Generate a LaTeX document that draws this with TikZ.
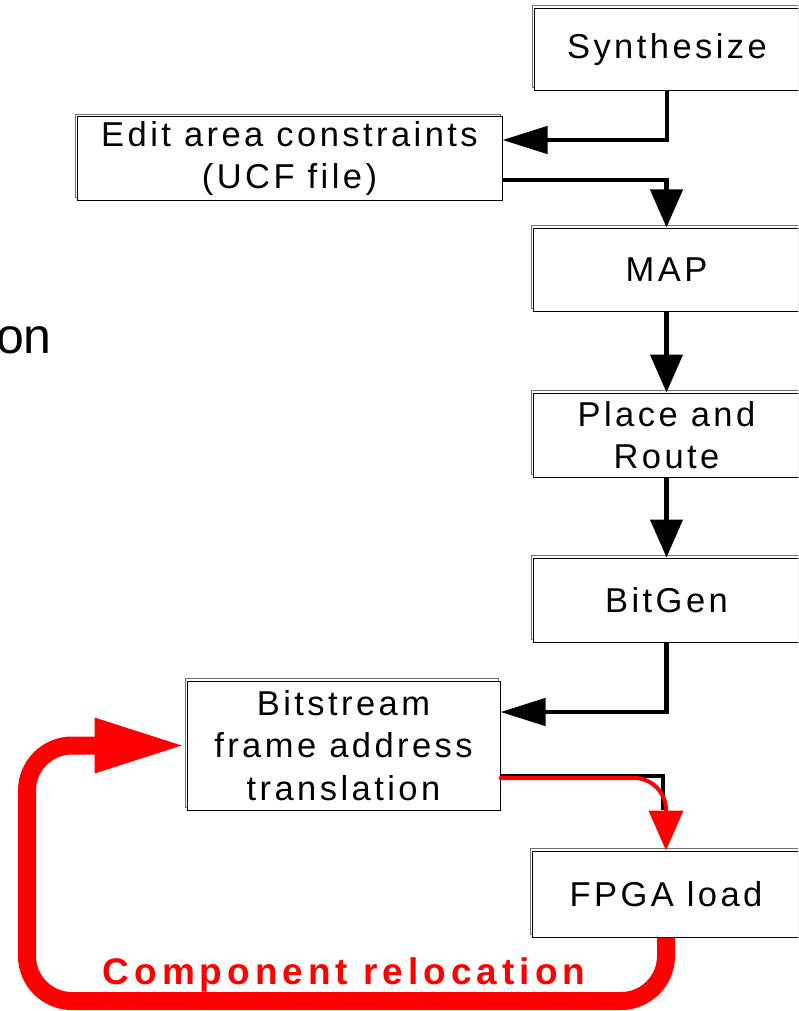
\documentclass[tikz,border=0pt]{standalone}
\usepackage{fontspec}
\setmainfont{Liberation Sans}
\newfontfamily\boxfont[LetterSpace=10]{Liberation Sans}
\newfontfamily\relfont[LetterSpace=13.5]{Liberation Sans}
\usetikzlibrary{arrows.meta,shadows}

\begin{document}
\begin{tikzpicture}[x=1pt,y=-1pt,
  box/.style={draw=black, line width=1pt, fill=white, align=center, inner sep=0pt,
    font={\boxfont\fontsize{34.5}{42.5}\selectfont},
    copy shadow={shadow xshift=-2pt, shadow yshift=3pt, draw=black!55, fill=white, line width=0.8pt}},
  boxsize/.style 2 args={minimum width=#1pt, minimum height=#2pt},
  flow/.style={draw=black, line width=4.5pt},
  vhead/.style={-{Triangle[length=38pt,width=32pt]}},
  hhead/.style={-{Triangle[length=45pt,width=27pt]}},
  redflow/.style={draw=red, line width=4pt, line cap=round, -{Triangle[length=40pt,width=34pt]}},
  loop/.style={draw=red, line width=18pt, rounded corners=45pt, -{Triangle[length=92pt,width=50pt]}}
]
\useasboundingbox (0,0) rectangle (798,1011);
\clip (0,0) rectangle (798,1011);

% process boxes
\node[box, boxsize={266}{82}] (synth)  at (667,49.5)   {Synthesize};
\node[box, boxsize={425}{83}] (edit)   at (289.5,158.5){Edit area constraints\\(UCF file)};
\node[box, boxsize={267}{83}] (map)    at (666.5,269.5){MAP};
\node[box, boxsize={267}{84}] (par)    at (666.5,435)  {Place and\\Route};
\node[box, boxsize={267}{84}] (bitgen) at (666.5,600)  {BitGen};
\node[box, boxsize={313}{129}] (bits)  at (343.5,745.5){Bitstream\\frame address\\translation};
\node[box, boxsize={268}{86}] (fpga)   at (666,894)    {FPGA load};

% label fragment at the left border
\node[anchor=base east, inner sep=0pt, font={\fontsize{50}{60}\selectfont}] (frag) at (52,353) {on};

% black flow connectors
\draw[flow, hhead] (synth.south) |- ([yshift=18.5pt]edit.east);
\draw[flow, vhead] ([yshift=-21.5pt]edit.east) -| (map.north);
\draw[flow, vhead] (map.south) -- (par.north);
\draw[flow, vhead] (par.south) -- (bitgen.north);
\draw[flow, hhead] (bitgen.south) |- ([yshift=33.5pt]bits.east);
\coordinate (oldend) at (663,810);
\draw[draw=black, line width=3.5pt] ([yshift=-30.5pt]bits.east) -| (oldend);

% red relocation path
\draw[redflow, rounded corners=32pt] ([yshift=-32.5pt]bits.east) -| (fpga.north);
\coordinate (lb) at (27,1001);
\draw[loop] (fpga.south) |- (lb) |- (bits.west);

\node[text=red, inner sep=0pt, font={\relfont\bfseries\fontsize{37}{40}\selectfont}] (reloc) at (344,975) {Component relocation};
\end{tikzpicture}
\end{document}
